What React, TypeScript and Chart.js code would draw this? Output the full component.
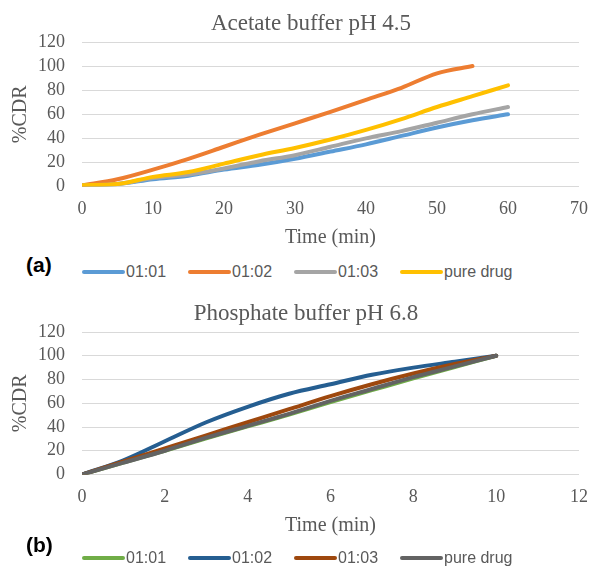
import React, { useEffect, useRef } from "react";
import { Chart, registerables } from "chart.js";

Chart.register(...registerables);

// Panel (a): Acetate buffer pH 4.5
const timeA = [0, 5, 10, 15, 20, 25, 30, 35, 40, 45, 50, 55, 60];
const a0101 = [1, 2, 6, 9, 14, 18, 23, 29, 35, 42, 49, 55, 60];
const a0102 = [1, 6, 14, 23, 33, 43, 52.5, 62, 72, 82, 94, 100];
const a0103 = [1, 2, 7, 10, 15, 21, 26, 33, 40, 46, 53, 60, 66];
const aPure = [1, 2, 8, 12, 19, 26, 32, 39, 47, 56, 66, 75, 84];

// Panel (b): Phosphate buffer pH 6.8
const timeB = [0, 1, 2, 3, 4, 5, 6, 7, 8, 9, 10];
const b0101 = [0, 10, 20, 30.5, 40.5, 50.5, 61, 71, 81, 90.5, 100];
const b0102 = [0, 12, 28, 44, 57, 68, 76, 84, 90, 95, 100];
const b0103 = [0, 11, 22, 33, 44, 55, 66, 76, 85, 93, 100];
const bPure = [0, 10, 20, 31, 41, 51, 62, 72, 82, 91, 100];

const seriesLabels = ["01:01", "01:02", "01:03", "pure drug"];
const colorsA = ["#5B9BD5", "#ED7D31", "#A5A5A5", "#FFC000"];
const colorsB = ["#70AD47", "#255E91", "#9E480E", "#636363"];

const SERIF = "'Liberation Serif', 'Times New Roman', serif";
const SANS = "'Liberation Sans', Arial, sans-serif";
const TXT = "#595959";

function toPoints(xs: number[], ys: number[]) {
  return ys.map((y, i) => ({ x: xs[i], y }));
}

function makeConfig(xs: number[], series: number[][], colors: string[], xMax: number, xStep: number): any {
  return {
    type: "line",
    data: {
      datasets: series.map((s, i) => ({
        label: seriesLabels[i],
        data: toPoints(xs, s),
        borderColor: colors[i],
        backgroundColor: colors[i],
        borderWidth: 4,
        pointRadius: 0,
        cubicInterpolationMode: "monotone",
        borderCapStyle: "round",
        order: series.length - i,
      })),
    },
    options: {
      responsive: false,
      animation: false,
      layout: { padding: { left: 0, right: 11, top: 42, bottom: 0 } },
      plugins: {
        legend: { display: false },
        tooltip: { enabled: false },
        title: { display: false },
      },
      scales: {
        x: {
          type: "linear",
          min: 0,
          max: xMax,
          afterFit: (s: any) => {
            s.height = 63.5;
            s.paddingLeft = 0;
            s.paddingRight = 0;
          },
          ticks: {
            stepSize: xStep,
            autoSkip: false,
            maxRotation: 0,
            color: TXT,
            font: { family: SERIF, size: 18 },
            padding: 12,
          },
          grid: { display: false, drawTicks: false },
          border: { display: false },
          title: {
            display: true,
            text: "Time (min)",
            color: TXT,
            font: { family: SERIF, size: 20 },
            padding: { top: 0, bottom: 0 },
          },
        },
        y: {
          min: 0,
          max: 120,
          afterFit: (s: any) => {
            s.width = 82;
            s.paddingTop = 0;
            s.paddingBottom = 0;
          },
          ticks: {
            stepSize: 20,
            autoSkip: false,
            color: TXT,
            font: { family: SERIF, size: 18 },
            padding: 17,
          },
          grid: { color: "#D9D9D9", lineWidth: 1, drawTicks: false },
          border: { display: false },
          title: {
            display: true,
            text: "%CDR",
            color: TXT,
            font: { family: SERIF, size: 20 },
            padding: { top: 9, bottom: 0 },
          },
        },
      },
    },
  };
}

function ChartPanel(props: { config: any; top: number; height: number }) {
  const ref = useRef<HTMLCanvasElement | null>(null);
  useEffect(() => {
    if (!ref.current) return;
    const chart = new Chart(ref.current, props.config);
    return () => chart.destroy();
  }, []);
  return (
    <canvas
      ref={ref}
      width={590}
      height={props.height}
      style={{ position: "absolute", left: 0, top: props.top, width: 590, height: props.height }}
    />
  );
}

function Title(props: { text: string; cx: number; cy: number }) {
  return (
    <div
      style={{
        position: "absolute",
        left: props.cx,
        top: props.cy - 15,
        height: 30,
        lineHeight: "30px",
        transform: "translateX(-50%)",
        whiteSpace: "nowrap",
        fontFamily: SERIF,
        fontSize: 23,
        color: TXT,
      }}
    >
      {props.text}
    </div>
  );
}

function Legend(props: { colors: string[]; top: number }) {
  const xs = [82, 188, 294, 400];
  return (
    <>
      {seriesLabels.map((l, i) => (
        <div
          key={l}
          style={{ position: "absolute", left: xs[i], top: props.top - 10, height: 20, display: "flex", alignItems: "center" }}
        >
          <span style={{ display: "inline-block", width: 43, height: 4, borderRadius: 2, background: props.colors[i] }} />
          <span style={{ marginLeft: 1, fontFamily: SANS, fontSize: 16, color: TXT, whiteSpace: "nowrap" }}>{l}</span>
        </div>
      ))}
    </>
  );
}

function PanelLabel(props: { text: string; top: number }) {
  return (
    <div
      style={{
        position: "absolute",
        left: 26,
        top: props.top - 12,
        height: 24,
        lineHeight: "24px",
        fontFamily: SANS,
        fontWeight: "bold",
        fontSize: 21,
        color: "#000",
      }}
    >
      {props.text}
    </div>
  );
}

export default function App() {
  const cfgA = makeConfig(timeA, [a0101, a0102, a0103, aPure], colorsA, 70, 10);
  const cfgB = makeConfig(timeB, [b0101, b0102, b0103, bPure], colorsB, 12, 2);
  return (
    <div style={{ position: "absolute", left: 0, top: 0, width: 590, height: 569, background: "#fff", overflow: "hidden" }}>
      <ChartPanel config={cfgA} top={0} height={250} />
      <Title text="Acetate buffer pH 4.5" cx={311} cy={23} />
      <PanelLabel text="(a)" top={265} />
      <Legend colors={colorsA} top={272} />
      <ChartPanel config={cfgB} top={290} height={248} />
      <Title text="Phosphate buffer pH 6.8" cx={306} cy={313} />
      <PanelLabel text="(b)" top={545} />
      <Legend colors={colorsB} top={558} />
    </div>
  );
}
